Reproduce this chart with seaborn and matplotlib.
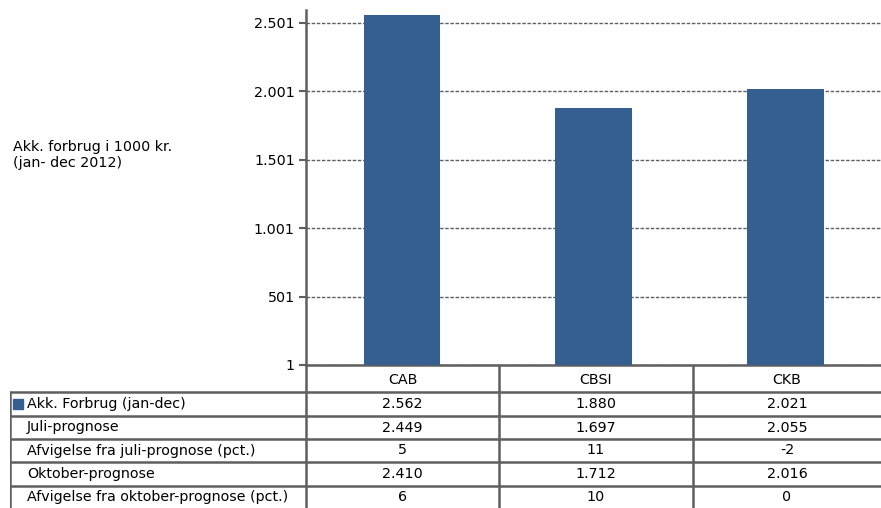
import numpy as np
import pandas as pd
import seaborn as sns
import matplotlib.pyplot as plt

# data
kategorier = ["CAB", "CBSI", "CKB"]
akk_forbrug = [2562, 1880, 2021]
juli_prognose = [2449, 1697, 2055]
afv_juli = [5, 11, -2]
okt_prognose = [2410, 1712, 2016]
afv_okt = [6, 10, 0]
y_ticks = [1, 501, 1001, 1501, 2001, 2501]

raekker = ["Akk. Forbrug (jan-dec)", "Juli-prognose", "Afvigelse fra juli-prognose (pct.)",
           "Oktober-prognose", "Afvigelse fra oktober-prognose (pct.)"]
vaerdier = [akk_forbrug, juli_prognose, afv_juli, okt_prognose, afv_okt]

bar_color = "#365F91"
line_color = "#5f5f5f"


def dk(v):
    return f"{v:,}".replace(",", ".")


sns.set_style("white")
plt.rcParams['font.family'] = ['DejaVu Sans']
plt.rcParams['text.color'] = 'black'
plt.rcParams['ytick.labelcolor'] = 'black'

fig = plt.figure(figsize=(8.81, 5.08), dpi=100)
W, H = 881, 508
fs = 10.3

# bar chart
ax = fig.add_axes([306 / W, (H - 365) / H, 575 / W, (365 - 10) / H])
df = pd.DataFrame({"kategori": kategorier, "forbrug": akk_forbrug})
sns.barplot(data=df, x="kategori", y="forbrug", color=bar_color, saturation=1,
            width=0.4, ax=ax, zorder=3, linewidth=0)
ax.set_xlim(-0.5, 2.5)
ax.set_ylim(1, 2596)
ax.set_yticks(y_ticks)
ax.set_yticklabels([dk(t) for t in y_ticks], fontsize=fs, color="black")
ax.set_xticks([])
ax.set_xlabel("")
ax.set_ylabel("")
ax.yaxis.grid(True, linestyle=(0, (2.5, 1.2)), color=line_color, linewidth=1, zorder=0)
ax.tick_params(axis="y", length=5, width=1.5, color=line_color, left=True, pad=3)
for s in ["top", "right"]:
    ax.spines[s].set_visible(False)
for s in ["left", "bottom"]:
    ax.spines[s].set_color(line_color)
    ax.spines[s].set_linewidth(1.8)

fig.text(13 / W, 1 - 155 / H, "Akk. forbrug i 1000 kr.\n(jan- dec 2012)",
         fontsize=fs, ha="left", va="center", linespacing=1.1)

# table below
tx = fig.add_axes([10 / W, 0, 871 / W, 143 / H])
tx.set_xlim(0, 871)
tx.set_ylim(143, 0)
tx.axis("off")
col_edges = [0, 296, 489, 683, 871]
row_edges = [0, 27, 51, 74, 97, 121, 143]
lw = 1.8

for y in row_edges[1:-1]:
    tx.plot([0, 871], [y, y], color=line_color, lw=lw, solid_capstyle="butt")
tx.plot([0, 0], [27, 143], color=line_color, lw=lw)
for x in col_edges[1:-1]:
    tx.plot([x, x], [0, 143], color=line_color, lw=lw)

for j, k in enumerate(kategorier):
    cx = (col_edges[j + 1] + col_edges[j + 2]) / 2
    tx.text(cx, (row_edges[0] + row_edges[1]) / 2 + 2, k, ha="center", va="center", fontsize=fs)

for i, (navn, vals) in enumerate(zip(raekker, vaerdier)):
    cy = (row_edges[i + 1] + row_edges[i + 2]) / 2
    tx.text(17, cy, navn, ha="left", va="center", fontsize=fs)
    for j, v in enumerate(vals):
        cx = (col_edges[j + 1] + col_edges[j + 2]) / 2
        tx.text(cx, cy, dk(v), ha="center", va="center", fontsize=fs)
    if i == 0:
        tx.plot([7.5], [cy], marker="s", markersize=7, color=bar_color, linestyle="none")

fig.savefig("out.png", dpi=100)
